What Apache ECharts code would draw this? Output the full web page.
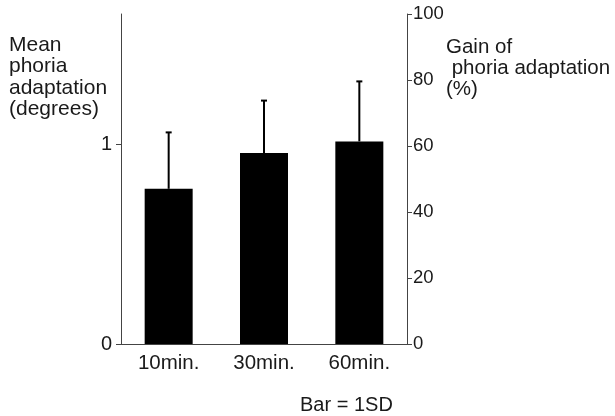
<!DOCTYPE html>
<html>
<head>
<meta charset="utf-8">
<script src="https://cdn.jsdelivr.net/npm/echarts@6/dist/echarts.min.js"></script>
<style>html,body{margin:0;padding:0;background:#fff}#c{width:615px;height:416px}</style>
</head>
<body>
<div id="c"></div>
<script>
var categories = ['10min.', '30min.', '60min.'];
var meanValues = [0.776, 0.955, 1.013];
var sdValues = [0.282, 0.262, 0.300];
var leftTicks = [0, 1];
var rightTicks = [0, 20, 40, 60, 80, 100];

var FONT = '"Liberation Sans", Arial, sans-serif';
var INK = '#1a1a1a';
var chart = echarts.init(document.getElementById('c'));
chart.setOption({
  animation: false,
  backgroundColor: '#fff',
  grid: {left: 121, right: 208, top: 14, bottom: 72, containLabel: false},
  xAxis: {
    type: 'category', data: categories, boundaryGap: true,
    axisLine: {lineStyle: {color: '#444', width: 1}},
    axisTick: {show: false},
    axisLabel: {color: INK, fontFamily: FONT, fontSize: 20.5, margin: 9}
  },
  yAxis: [{
    type: 'value', min: 0, max: 1.65, position: 'left',
    splitLine: {show: false},
    axisLine: {show: true, lineStyle: {color: '#444', width: 1}},
    axisTick: {show: true, length: 5, customValues: leftTicks, lineStyle: {color: '#444'}},
    axisLabel: {color: INK, fontFamily: FONT, fontSize: 20, margin: 9, customValues: leftTicks}
  }, {
    type: 'value', min: 0, max: 100, interval: 20, position: 'right',
    splitLine: {show: false},
    axisLine: {show: true, lineStyle: {color: '#444', width: 1}},
    axisTick: {show: true, length: 5, lineStyle: {color: '#444'}},
    axisLabel: {color: INK, fontFamily: FONT, fontSize: 18.5, margin: 6, customValues: rightTicks}
  }],
  series: [{
    type: 'bar', yAxisIndex: 0, data: meanValues, barWidth: 48,
    itemStyle: {color: '#000'}, z: 2
  }, {
    type: 'custom', yAxisIndex: 0, z: 3,
    data: meanValues.map(function (m, i) { return [i, m, m + sdValues[i]]; }),
    renderItem: function (params, api) {
      var x = api.value(0);
      var p0 = api.coord([x, api.value(1)]);
      var p1 = api.coord([x, api.value(2)]);
      var st = {stroke: '#000', lineWidth: 2};
      return {type: 'group', children: [
        {type: 'line', shape: {x1: p0[0], y1: p0[1], x2: p1[0], y2: p1[1]}, style: st},
        {type: 'line', shape: {x1: p1[0] - 3, y1: p1[1], x2: p1[0] + 3, y2: p1[1]}, style: st}
      ]};
    }
  }],
  graphic: [
    {type: 'text', left: 9, top: 34, style: {text: 'Mean\nphoria\nadaptation\n(degrees)', font: '21px ' + FONT, fill: INK, lineHeight: 21.6}},
    {type: 'text', left: 446, top: 37, style: {text: 'Gain of\n phoria adaptation\n(%)', font: '20.5px ' + FONT, fill: INK, lineHeight: 20.8}},
    {type: 'text', left: 300, top: 395, style: {text: 'Bar = 1SD', font: '20px ' + FONT, fill: INK}}
  ]
});
</script>
</body>
</html>
